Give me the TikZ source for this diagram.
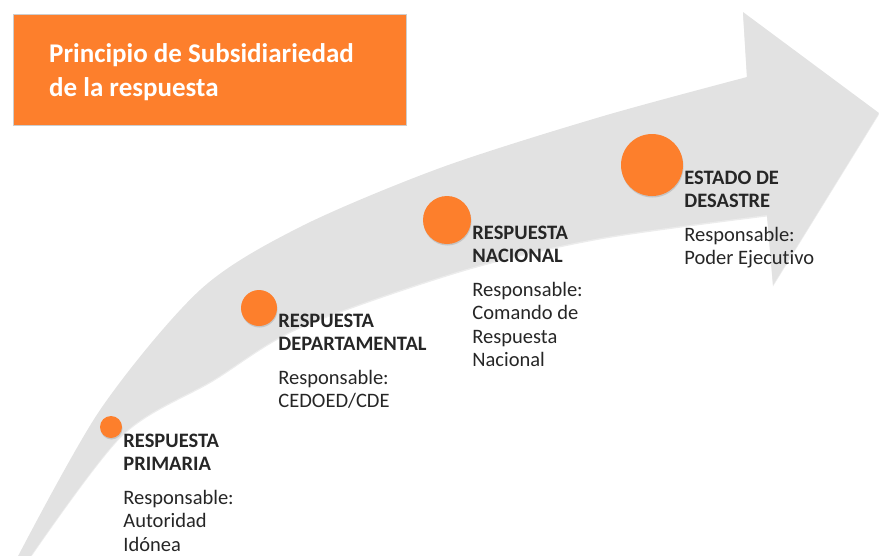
\documentclass[tikz,border=0pt]{standalone}
\usepackage{fontspec}
\setmainfont{Carlito}[Ligatures=NoCommon]
\usetikzlibrary{shadows}
\definecolor{naranja}{RGB}{253,127,44}
\definecolor{gris}{RGB}{226,226,226}
\definecolor{borde}{RGB}{205,205,205}
\definecolor{texto}{RGB}{38,38,38}
\tikzset{
  hito/.style={circle, fill=naranja, inner sep=0pt,
    drop shadow={shadow xshift=0.5pt, shadow yshift=-1.5pt, opacity=0.3}},
  etiqueta/.style={anchor=north west, align=left, inner sep=0pt, text=texto,
    font=\fontsize{20.5}{23.5}\selectfont},
}
\begin{document}
\begin{tikzpicture}[x=1pt,y=-1pt]
\useasboundingbox (0,0) rectangle (879,555);

\begin{scope}
\clip (0,0) rectangle (879,555);
\fill[gris, drop shadow={shadow xshift=0pt, shadow yshift=-1.5pt, opacity=0.15}]
  plot[smooth] coordinates {(16,560) (100,410) (200,290) (300,227) (440,168) (600,117) (747,77)}
  -- (743,12) -- (879,113) -- (773,285)
  -- plot[smooth] coordinates {(767,215) (600,238) (463,270) (300,327) (213,380) (122,435) (28,560)}
  -- cycle;
\end{scope}

\node[fill=naranja, draw=borde, minimum width=393pt, minimum height=111pt, anchor=north west] (titulo) at (13,14) {};
\node[anchor=north west, align=left, inner sep=0pt, text=white, font=\bfseries\fontsize{27}{34}\selectfont] (titulo-txt) at (49,43) {Principio de Subsidiariedad\\de la respuesta};

\node[hito, minimum size=22pt] (primaria) at (111,427) {};
\node[hito, minimum size=36pt] (departamental) at (259,308) {};
\node[hito, minimum size=48pt] (nacional) at (447,220) {};
\node[hito, minimum size=62pt] (desastre) at (652,165) {};

\node[etiqueta] (primaria-txt) at ([xshift=1pt,yshift=-6.5pt]primaria.east)
  {\textbf{RESPUESTA}\\\textbf{PRIMARIA}\\[10pt]Responsable:\\Autoridad\\Idónea};
\node[etiqueta] (departamental-txt) at ([xshift=1pt,yshift=-5.5pt]departamental.east)
  {\textbf{RESPUESTA}\\\textbf{DEPARTAMENTAL}\\[10pt]Responsable:\\CEDOED/CDE};
\node[etiqueta] (nacional-txt) at ([xshift=1pt,yshift=-5.5pt]nacional.east)
  {\textbf{RESPUESTA}\\\textbf{NACIONAL}\\[10pt]Responsable:\\Comando de\\Respuesta\\Nacional};
\node[etiqueta] (desastre-txt) at ([xshift=1pt,yshift=-5.5pt]desastre.east)
  {\textbf{ESTADO DE}\\\textbf{DESASTRE}\\[10pt]Responsable:\\Poder Ejecutivo};

\end{tikzpicture}
\end{document}
